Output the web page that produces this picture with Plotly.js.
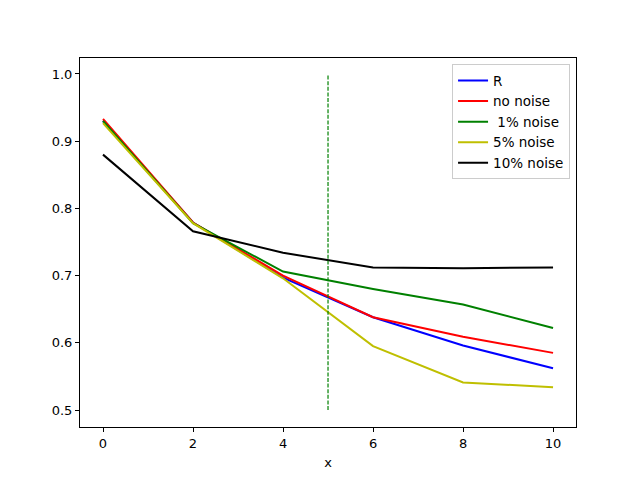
<!DOCTYPE html>
<html>
<head>
<meta charset="utf-8">
<script src="https://cdn.plot.ly/plotly-3.0.1.min.js"></script>
<style>body{margin:0;} #plot{width:640px;height:480px;}</style>
</head>
<body>
<div id="plot"></div>
<script>
const xs = [0, 2, 4, 6, 8, 10];
const rVals = [0.930, 0.779, 0.697, 0.638, 0.596, 0.562];
const noNoise = [0.933, 0.779, 0.700, 0.638, 0.609, 0.585];
const noise1 = [0.930, 0.778, 0.706, 0.680, 0.657, 0.622];
const noise5 = [0.927, 0.778, 0.696, 0.595, 0.541, 0.534];
const noise10 = [0.880, 0.766, 0.734, 0.712, 0.711, 0.712];

const names = ['R', 'no noise', '\u00a01% noise', '5% noise', '10% noise'];
const series = [rVals, noNoise, noise1, noise5, noise10];
const colors = ['#0000ff', '#ff0000', '#008000', '#bfbf00', '#000000'];

const markX = [5, 5];
const markY = [0.5, 1.0];

let traces = [];
series.forEach((vals, i) => {
    traces.push({
        type: 'scatter',
        mode: 'lines',
        name: names[i],
        x: xs,
        y: vals,
        line: { color: colors[i], width: 2 }
    });
});
traces.push({
    type: 'scatter',
    mode: 'lines',
    x: markX,
    y: markY,
    showlegend: false,
    line: { color: '#008000', width: 1.2, dash: '4px,1.6px' }
});

const axisStyle = {
    showgrid: false,
    zeroline: false,
    showline: true,
    mirror: true,
    linecolor: '#000',
    linewidth: 1,
    ticks: 'outside',
    ticklen: 4,
    tickcolor: '#000',
    tickfont: { size: 13, color: '#000' }
};

let layout = {
    width: 640,
    height: 480,
    margin: { l: 80, r: 64, t: 58, b: 53 },
    paper_bgcolor: '#fff',
    plot_bgcolor: '#fff',
    font: { family: 'DejaVu Sans', size: 13, color: '#000' },
    showlegend: true,
    legend: {
        x: 0.988, y: 0.983,
        xanchor: 'right', yanchor: 'top',
        bordercolor: '#cccccc',
        borderwidth: 1,
        bgcolor: 'rgba(255,255,255,0.8)',
        font: { size: 13.5 },
        tracegroupgap: 0
    },
    xaxis: Object.assign({}, axisStyle, {
        range: [-0.511, 10.51],
        tickvals: [0, 2, 4, 6, 8, 10],
        title: { text: 'x', font: { size: 13 }, standoff: 8 }
    }),
    yaxis: Object.assign({}, axisStyle, {
        range: [0.4747, 1.0238],
        tickvals: [0.5, 0.6, 0.7, 0.8, 0.9, 1.0],
        tickformat: '.1f'
    })
};

Plotly.newPlot('plot', traces, layout, { displayModeBar: false, staticPlot: true });
</script>
</body>
</html>
